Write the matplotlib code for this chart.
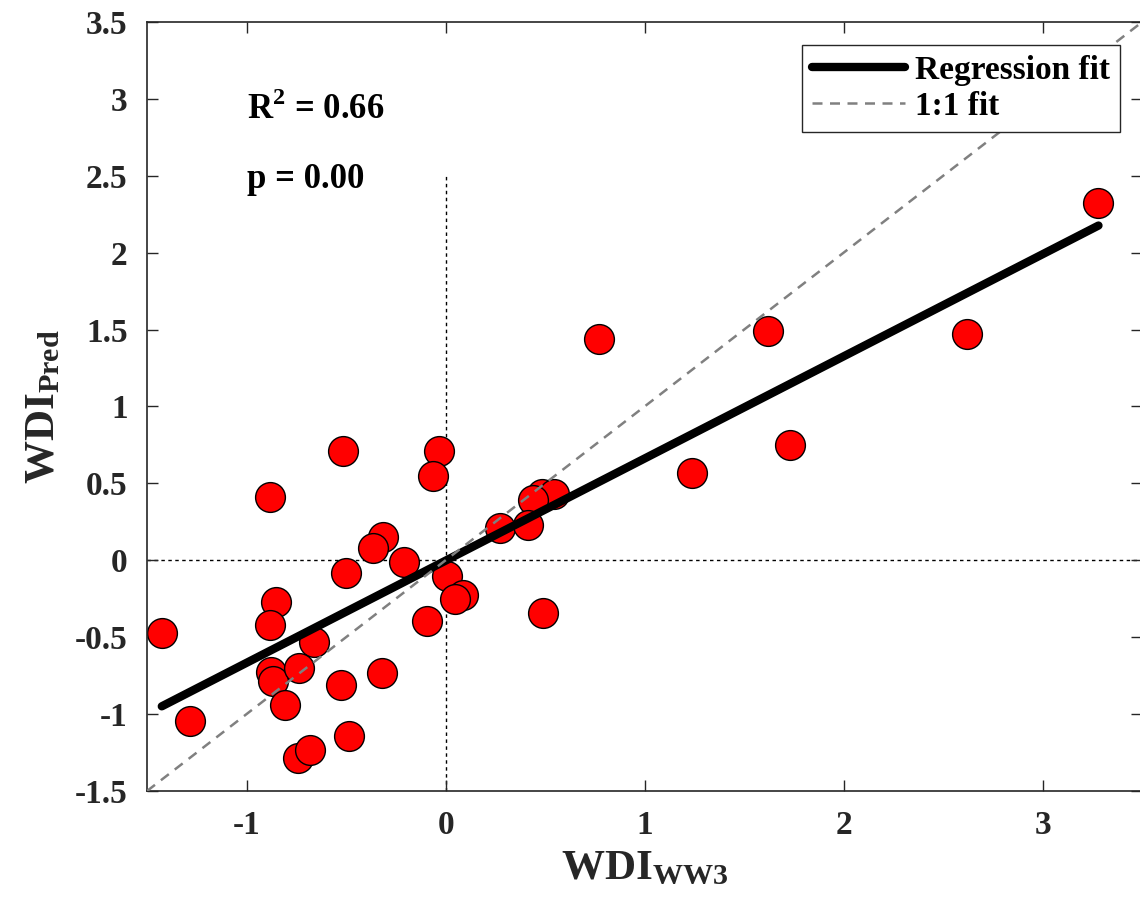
import matplotlib.pyplot as plt
import numpy as np

plt.rcParams['font.family'] = 'Liberation Serif'
plt.rcParams['font.weight'] = 'bold'
plt.rcParams['axes.unicode_minus'] = False
plt.rcParams['mathtext.fontset'] = 'custom'
plt.rcParams['mathtext.rm'] = 'Liberation Serif:bold'
plt.rcParams['mathtext.bf'] = 'Liberation Serif:bold'

# WDI from WW3 vs predicted WDI
wdi_ww3 = [3.28, 0.77, 1.62, 2.62, 1.24, 1.73,
           -0.515, -0.034, -0.065, -0.884, 0.482, 0.544, 0.44, 0.273, 0.415,
           -0.314, -0.364, -0.21, -0.503, 0.005, 0.088, 0.047, -0.096, 0.49,
           -0.854, -0.883, -1.426, -0.662, -0.876, -0.866, -0.737, -0.319,
           -0.528, -0.806, -1.285, -0.486, -0.741, -0.682]
wdi_pred = [2.32, 1.44, 1.49, 1.47, 0.57, 0.75,
            0.713, 0.711, 0.55, 0.41, 0.431, 0.429, 0.392, 0.212, 0.227,
            0.153, 0.08, -0.011, -0.085, -0.1, -0.226, -0.254, -0.397, -0.34,
            -0.273, -0.419, -0.475, -0.533, -0.724, -0.783, -0.698, -0.735,
            -0.813, -0.939, -1.043, -1.14, -1.287, -1.233]

x = np.array(wdi_ww3)
y = np.array(wdi_pred)
slope, icpt = np.polyfit(x, y, 1)
xf = np.array([x.min(), x.max()])

fig = plt.figure(figsize=(11.4, 9.08), dpi=100)
ax = fig.add_axes([0.129, 0.1289, 0.873, 0.847])

ax.plot([-1.5, 3.5], [0, 0], color='black', lw=1, linestyle=(0, (2.5, 2.5)), zorder=1)
ax.plot([0, 0], [-1.5, 2.5], color='black', lw=1, linestyle=(0, (2.5, 2.5)), zorder=1)

ax.scatter(x, y, s=460, c='red', edgecolors='black', linewidths=1, zorder=2)
ax.plot(xf, slope * xf + icpt, color='black', lw=6, solid_capstyle='round',
        label='Regression fit', zorder=3)
ax.plot([-1.5, 3.5], [-1.5, 3.5], color='gray', lw=1.8, linestyle=(0, (4, 3)),
        label='1:1 fit', zorder=3)

ax.text(-1.0, 2.87, r'R$^{\mathbf{2}}$ = 0.66', fontsize=25, fontweight='bold')
ax.text(-1.0, 2.42, 'p = 0.00', fontsize=25, fontweight='bold')

ax.set_xlim(-1.5, 3.5)
ax.set_ylim(-1.5, 3.5)
ax.set_xticks([-1, 0, 1, 2, 3])
ax.set_yticks(np.arange(-1.5, 3.51, 0.5))
ax.set_yticklabels(['-1.5', '-1', '-0.5', '0', '0.5', '1', '1.5', '2', '2.5', '3', '3.5'])
ax.tick_params(direction='in', length=8, width=1, top=True, right=True,
               labelsize=24, colors='#262626', pad=14)
for s in ax.spines.values():
    s.set_color('#262626')
    s.set_linewidth(1.2)

ax.set_xlabel(r'$\mathrm{WDI_{WW3}}$', fontsize=31, color='#262626', labelpad=6)
ax.set_ylabel(r'$\mathrm{WDI_{Pred}}$', fontsize=31, color='#262626', labelpad=8)

leg = ax.legend(loc='upper right', fontsize=24, handlelength=2.8, fancybox=False,
                edgecolor='#262626', framealpha=1, borderpad=0.3, labelspacing=0.15,
                handletextpad=0.3, borderaxespad=0, bbox_to_anchor=(0.978, 0.970))
leg.get_frame().set_linewidth(1)

fig.savefig('out.png', dpi=100)
